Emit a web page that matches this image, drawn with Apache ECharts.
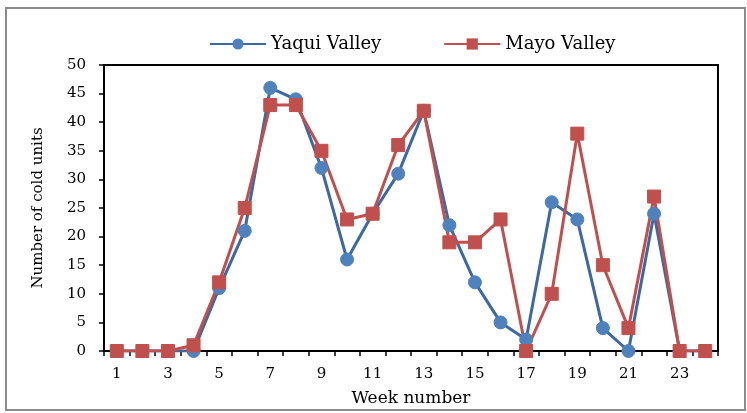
<!DOCTYPE html>
<html>
<head>
<meta charset="utf-8">
<script src="https://cdn.jsdelivr.net/npm/echarts@6/dist/echarts.min.js"></script>
<style>
  html, body { margin: 0; padding: 0; background: #fff; }
  #chart { width: 747px; height: 413px; }
</style>
</head>
<body>
<div id="chart"></div>
<script>
// Weekly accumulated cold units for the two valleys
const weeks = ['1','2','3','4','5','6','7','8','9','10','11','12','13','14','15','16','17','18','19','20','21','22','23','24'];
const yaquiValley = [0, 0, 0, 0, 11, 21, 46, 44, 32, 16, 24, 31, 42, 22, 12, 5, 2, 26, 23, 4, 0, 24, 0, 0];
const mayoValley  = [0, 0, 0, 1, 12, 25, 43, 43, 35, 23, 24, 36, 42, 19, 19, 23, 0, 10, 38, 15, 4, 27, 0, 0];

const font = 'DejaVu Serif, serif';
const chart = echarts.init(document.getElementById('chart'));

chart.setOption({
  animation: false,
  backgroundColor: '#fff',
  textStyle: { fontFamily: font },
  graphic: [{
    type: 'rect',
    shape: { x: 6, y: 8, width: 739, height: 402 },
    style: { fill: 'none', stroke: '#8c8c8c', lineWidth: 2 },
    silent: true
  }],
  legend: {
    top: 30,
    left: 204,
    itemGap: 62,
    itemWidth: 56,
    itemHeight: 14,
    textStyle: { fontFamily: font, fontSize: 18, color: '#000' },
    data: ['Yaqui Valley', 'Mayo Valley']
  },
  grid: { left: 104, right: 29, top: 65, bottom: 62, show: true, borderColor: '#000', borderWidth: 2 },
  xAxis: {
    type: 'category',
    data: weeks,
    boundaryGap: true,
    name: 'Week number',
    nameLocation: 'middle',
    nameGap: 39,
    nameTextStyle: { fontFamily: font, fontSize: 17, color: '#000' },
    axisLine: { lineStyle: { color: '#000', width: 2 } },
    axisTick: { show: true, alignWithLabel: false, interval: 0, length: 5, lineStyle: { color: '#000', width: 1.5 } },
    axisLabel: { interval: 1, fontFamily: font, fontSize: 15, color: '#000', margin: 16 },
    splitLine: { show: false }
  },
  yAxis: {
    type: 'value',
    min: 0,
    max: 50,
    interval: 5,
    name: 'Number of cold units',
    nameLocation: 'middle',
    nameGap: 58,
    nameTextStyle: { fontFamily: font, fontSize: 15, color: '#000' },
    axisLine: { show: true, lineStyle: { color: '#000', width: 2 } },
    axisTick: { show: true, length: 5, lineStyle: { color: '#000', width: 1.5 } },
    axisLabel: { fontFamily: font, fontSize: 15, color: '#000', margin: 18 },
    splitLine: { show: false }
  },
  series: [
    {
      name: 'Yaqui Valley',
      type: 'line',
      data: yaquiValley,
      symbol: 'circle',
      symbolSize: 13,
      lineStyle: { color: '#3c68a4', width: 3 },
      itemStyle: { color: '#4f81bd', borderColor: '#4f81bd' }
    },
    {
      name: 'Mayo Valley',
      type: 'line',
      data: mayoValley,
      symbol: 'rect',
      symbolSize: 13,
      lineStyle: { color: '#c0504d', width: 3 },
      itemStyle: { color: '#c0504d', borderColor: '#c0504d' }
    }
  ]
});
</script>
</body>
</html>
